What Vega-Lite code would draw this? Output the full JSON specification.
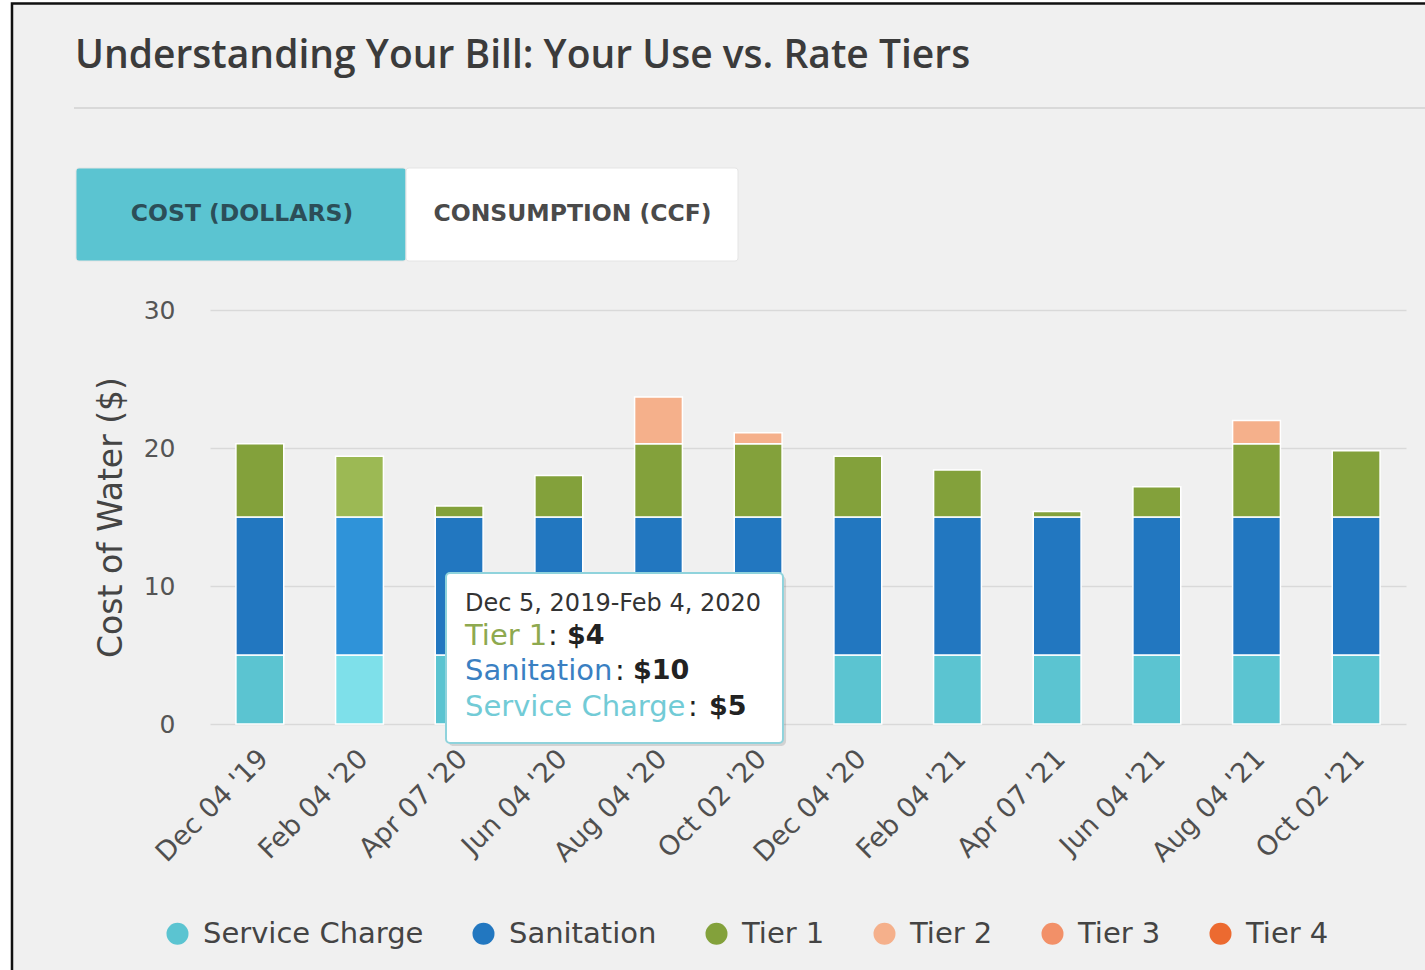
{
  "$schema": "https://vega.github.io/schema/vega-lite/v6.json",
  "width": 1196,
  "height": 414,
  "autosize": {"type": "none"},
  "padding": {"left": 210, "top": 310, "right": 19, "bottom": 246},
  "background": "#f0f0f0",
  "config": {
    "view": {"stroke": null},
    "font": "DejaVu Sans",
    "axisY": {
      "grid": true, "gridColor": "#d9d9d9", "gridWidth": 1.5,
      "domain": false, "ticks": false,
      "labelFontSize": 25, "labelColor": "#555555", "labelPadding": 35,
      "titleFontSize": 33, "titleFontWeight": "normal", "titleColor": "#444444", "titlePadding": 15
    },
    "axisX": {
      "grid": false, "domain": false, "ticks": false,
      "labelAngle": -45, "labelFontSize": 27, "labelColor": "#4f4f4f", "labelPadding": 21, "labelOffset": -5
    }
  },
  "datasets": {
    "bills": [
      {"period": "Dec 04 '19", "component": "Service Charge", "cost": 5},
      {"period": "Dec 04 '19", "component": "Sanitation", "cost": 10},
      {"period": "Dec 04 '19", "component": "Tier 1", "cost": 5.3},
      {"period": "Feb 04 '20", "component": "Service Charge", "cost": 5},
      {"period": "Feb 04 '20", "component": "Sanitation", "cost": 10},
      {"period": "Feb 04 '20", "component": "Tier 1", "cost": 4.4},
      {"period": "Apr 07 '20", "component": "Service Charge", "cost": 5},
      {"period": "Apr 07 '20", "component": "Sanitation", "cost": 10},
      {"period": "Apr 07 '20", "component": "Tier 1", "cost": 0.8},
      {"period": "Jun 04 '20", "component": "Service Charge", "cost": 5},
      {"period": "Jun 04 '20", "component": "Sanitation", "cost": 10},
      {"period": "Jun 04 '20", "component": "Tier 1", "cost": 3.0},
      {"period": "Aug 04 '20", "component": "Service Charge", "cost": 5},
      {"period": "Aug 04 '20", "component": "Sanitation", "cost": 10},
      {"period": "Aug 04 '20", "component": "Tier 1", "cost": 5.3},
      {"period": "Aug 04 '20", "component": "Tier 2", "cost": 3.4},
      {"period": "Oct 02 '20", "component": "Service Charge", "cost": 5},
      {"period": "Oct 02 '20", "component": "Sanitation", "cost": 10},
      {"period": "Oct 02 '20", "component": "Tier 1", "cost": 5.3},
      {"period": "Oct 02 '20", "component": "Tier 2", "cost": 0.8},
      {"period": "Dec 04 '20", "component": "Service Charge", "cost": 5},
      {"period": "Dec 04 '20", "component": "Sanitation", "cost": 10},
      {"period": "Dec 04 '20", "component": "Tier 1", "cost": 4.4},
      {"period": "Feb 04 '21", "component": "Service Charge", "cost": 5},
      {"period": "Feb 04 '21", "component": "Sanitation", "cost": 10},
      {"period": "Feb 04 '21", "component": "Tier 1", "cost": 3.4},
      {"period": "Apr 07 '21", "component": "Service Charge", "cost": 5},
      {"period": "Apr 07 '21", "component": "Sanitation", "cost": 10},
      {"period": "Apr 07 '21", "component": "Tier 1", "cost": 0.4},
      {"period": "Jun 04 '21", "component": "Service Charge", "cost": 5},
      {"period": "Jun 04 '21", "component": "Sanitation", "cost": 10},
      {"period": "Jun 04 '21", "component": "Tier 1", "cost": 2.2},
      {"period": "Aug 04 '21", "component": "Service Charge", "cost": 5},
      {"period": "Aug 04 '21", "component": "Sanitation", "cost": 10},
      {"period": "Aug 04 '21", "component": "Tier 1", "cost": 5.3},
      {"period": "Aug 04 '21", "component": "Tier 2", "cost": 1.7},
      {"period": "Oct 02 '21", "component": "Service Charge", "cost": 5},
      {"period": "Oct 02 '21", "component": "Sanitation", "cost": 10},
      {"period": "Oct 02 '21", "component": "Tier 1", "cost": 4.8}
    ],
    "frameWhite": [
      {"ax": -2.7, "ax2": -1.999, "ay": -20, "ay2": 60},
      {"ax": -2.7, "ax2": 13, "ay": 52.3, "ay2": 60}
    ],
    "frameBorder": [
      {"ax": -1.9866, "ax2": 13, "ay": 52.21, "ay2": -20}
    ],
    "titleRule": [
      {"ax": -1.3646, "ax2": 12.3, "ay": 44.64}
    ],
    "titleText": [
      {"ax": -1.3545, "ay": 48.4, "label": "Understanding Your Bill: Your Use vs. Rate Tiers"}
    ],
    "buttons": [
      {"label": "COST (DOLLARS)", "ax": -1.3445, "ax2": 1.9666, "ay": 40.29, "ay2": 33.55, "tx": 0.321, "ty": 36.96},
      {"label": "CONSUMPTION (CCF)", "ax": 1.9666, "ax2": 5.2977, "ay": 40.29, "ay2": 33.55, "tx": 3.637, "ty": 36.96}
    ],
    "tipBox": [
      {"ax": 2.368, "ax2": 5.749, "ay": 10.942, "ay2": -1.377}
    ],
    "tipShadow": [
      {"ax": 2.39, "ax2": 5.78, "ay": 10.75, "ay2": -1.6}
    ],
    "tipDate": [
      {"ax": 2.5585, "ay": 8.696, "label": "Dec 5, 2019-Feb 4, 2020"}
    ],
    "tipRows": [
      {"label": "Tier 1", "value": "$4", "ax": 2.5585, "cx": 3.391, "vx": 3.582, "ay": 6.377},
      {"label": "Sanitation", "value": "$10", "ax": 2.5585, "cx": 4.064, "vx": 4.244, "ay": 3.841},
      {"label": "Service Charge", "value": "$5", "ax": 2.5585, "cx": 4.796, "vx": 5.007, "ay": 1.232}
    ]
  },
  "layer": [
    {
      "data": {"name": "bills"},
      "transform": [
        {"calculate": "indexof(['Service Charge','Sanitation','Tier 1','Tier 2','Tier 3','Tier 4'], datum.component)", "as": "rank"}
      ],
      "layer": [
        {
          "transform": [{"filter": {"not": {"field": "period", "equal": "Feb 04 '20"}}}],
          "mark": {"type": "bar", "stroke": "#ffffff", "strokeWidth": 1.5},
          "encoding": {
            "x": {
              "field": "period", "type": "nominal",
              "scale": {"domain": ["Dec 04 '19", "Feb 04 '20", "Apr 07 '20", "Jun 04 '20", "Aug 04 '20", "Oct 02 '20", "Dec 04 '20", "Feb 04 '21", "Apr 07 '21", "Jun 04 '21", "Aug 04 '21", "Oct 02 '21"], "paddingInner": 0.52, "paddingOuter": 0.26},
              "axis": {"title": null}
            },
            "y": {
              "field": "cost", "type": "quantitative",
              "scale": {"domain": [0, 30]},
              "axis": {"values": [0, 10, 20, 30], "title": "Cost of Water ($)"}
            },
            "color": {
              "field": "component", "type": "nominal",
              "scale": {
                "domain": ["Service Charge", "Sanitation", "Tier 1", "Tier 2", "Tier 3", "Tier 4"],
                "range": ["#5bc4d1", "#2277c0", "#83a13b", "#f5b08b", "#f29068", "#ec6a30"]
              },
              "legend": {
                "orient": "none", "legendX": -47, "legendY": 609, "direction": "horizontal",
                "title": null, "symbolType": "circle", "symbolSize": 484, "symbolStrokeWidth": 0,
                "labelFontSize": 29, "labelColor": "#444444", "labelFont": "DejaVu Sans",
                "columnPadding": 45, "labelOffset": 11, "padding": 0, "labelLimit": 400
              }
            },
            "order": {"field": "rank", "type": "quantitative"}
          }
        },
        {
          "transform": [{"filter": {"field": "period", "equal": "Feb 04 '20"}}],
          "mark": {"type": "bar", "stroke": "#ffffff", "strokeWidth": 1.5},
          "encoding": {
            "x": {
              "field": "period", "type": "nominal",
              "scale": {"domain": ["Dec 04 '19", "Feb 04 '20", "Apr 07 '20", "Jun 04 '20", "Aug 04 '20", "Oct 02 '20", "Dec 04 '20", "Feb 04 '21", "Apr 07 '21", "Jun 04 '21", "Aug 04 '21", "Oct 02 '21"], "paddingInner": 0.52, "paddingOuter": 0.26},
              "axis": {"title": null}
            },
            "y": {
              "field": "cost", "type": "quantitative",
              "scale": {"domain": [0, 30]},
              "axis": {"values": [0, 10, 20, 30], "title": "Cost of Water ($)"}
            },
            "color": {
              "field": "component", "type": "nominal",
              "scale": {
                "domain": ["Service Charge", "Sanitation", "Tier 1", "Tier 2"],
                "range": ["#7ee0ea", "#2f93d9", "#9cb954", "#f7c0a0"]
              },
              "legend": null
            },
            "order": {"field": "rank", "type": "quantitative"}
          }
        }
      ],
      "resolve": {"scale": {"color": "independent"}}
    },
    {
      "encoding": {
        "x": {"field": "ax", "type": "quantitative", "scale": {"domain": [0, 12]}, "axis": null},
        "y": {"field": "ay", "type": "quantitative", "scale": {"domain": [0, 30]}, "axis": null}
      },
      "layer": [
        {
          "data": {"name": "frameWhite"},
          "mark": {"type": "rect", "fill": "#ffffff", "clip": false},
          "encoding": {"x2": {"field": "ax2"}, "y2": {"field": "ay2"}}
        },
        {
          "data": {"name": "frameBorder"},
          "mark": {"type": "rect", "filled": false, "stroke": "#111111", "strokeWidth": 2.5, "clip": false},
          "encoding": {"x2": {"field": "ax2"}, "y2": {"field": "ay2"}}
        },
        {
          "data": {"name": "titleRule"},
          "mark": {"type": "rule", "stroke": "#d9d9d9", "strokeWidth": 2, "clip": false},
          "encoding": {"x2": {"field": "ax2"}}
        },
        {
          "data": {"name": "titleText"},
          "mark": {"type": "text", "font": "Open Sans", "fontSize": 39, "fontWeight": 600, "fill": "#3b3b3b", "align": "left", "baseline": "middle", "clip": false},
          "encoding": {"text": {"field": "label"}}
        },
        {
          "data": {"name": "buttons"},
          "mark": {"type": "rect", "stroke": "#e4e4e4", "strokeWidth": 1, "cornerRadius": 3, "clip": false},
          "encoding": {
            "x2": {"field": "ax2"}, "y2": {"field": "ay2"},
            "color": {"condition": {"test": "datum.label === 'COST (DOLLARS)'", "value": "#5bc4d1"}, "value": "#ffffff"}
          }
        },
        {
          "data": {"name": "buttons"},
          "mark": {"type": "text", "font": "DejaVu Sans", "fontSize": 23.5, "fontWeight": "bold", "align": "center", "baseline": "middle", "clip": false},
          "encoding": {
            "x": {"field": "tx", "type": "quantitative", "scale": {"domain": [0, 12]}, "axis": null},
            "y": {"field": "ty", "type": "quantitative", "scale": {"domain": [0, 30]}, "axis": null},
            "text": {"field": "label"},
            "color": {"condition": {"test": "datum.label === 'COST (DOLLARS)'", "value": "#2c4e58"}, "value": "#4a4a4a"}
          }
        },
        {
          "data": {"name": "tipShadow"},
          "mark": {"type": "rect", "fill": "#000000", "fillOpacity": 0.12, "cornerRadius": 5, "clip": false},
          "encoding": {"x2": {"field": "ax2"}, "y2": {"field": "ay2"}}
        },
        {
          "data": {"name": "tipBox"},
          "mark": {"type": "rect", "fill": "#ffffff", "stroke": "#8fd3dc", "strokeWidth": 2, "cornerRadius": 4, "clip": false},
          "encoding": {"x2": {"field": "ax2"}, "y2": {"field": "ay2"}}
        },
        {
          "data": {"name": "tipDate"},
          "mark": {"type": "text", "font": "DejaVu Sans", "fontSize": 24, "fill": "#333333", "align": "left", "baseline": "middle", "clip": false},
          "encoding": {"text": {"field": "label"}}
        },
        {
          "data": {"name": "tipRows"},
          "mark": {"type": "text", "font": "DejaVu Sans", "fontSize": 29, "align": "left", "baseline": "middle", "clip": false},
          "encoding": {
            "text": {"field": "label"},
            "color": {"condition": [{"test": "datum.label === 'Tier 1'", "value": "#8ea94f"}, {"test": "datum.label === 'Sanitation'", "value": "#3a80c2"}], "value": "#72cbd6"}
          }
        },
        {
          "data": {"name": "tipRows"},
          "mark": {"type": "text", "font": "DejaVu Sans", "fontSize": 29, "fill": "#222222", "align": "left", "baseline": "middle", "clip": false},
          "encoding": {
            "x": {"field": "cx", "type": "quantitative", "scale": {"domain": [0, 12]}, "axis": null},
            "text": {"value": ":"}
          }
        },
        {
          "data": {"name": "tipRows"},
          "mark": {"type": "text", "font": "DejaVu Sans", "fontSize": 27, "fontWeight": "bold", "fill": "#222222", "align": "left", "baseline": "middle", "clip": false},
          "encoding": {
            "x": {"field": "vx", "type": "quantitative", "scale": {"domain": [0, 12]}, "axis": null},
            "text": {"field": "value"}
          }
        }
      ]
    }
  ],
  "resolve": {"scale": {"x": "independent", "y": "independent", "color": "independent"}}
}
